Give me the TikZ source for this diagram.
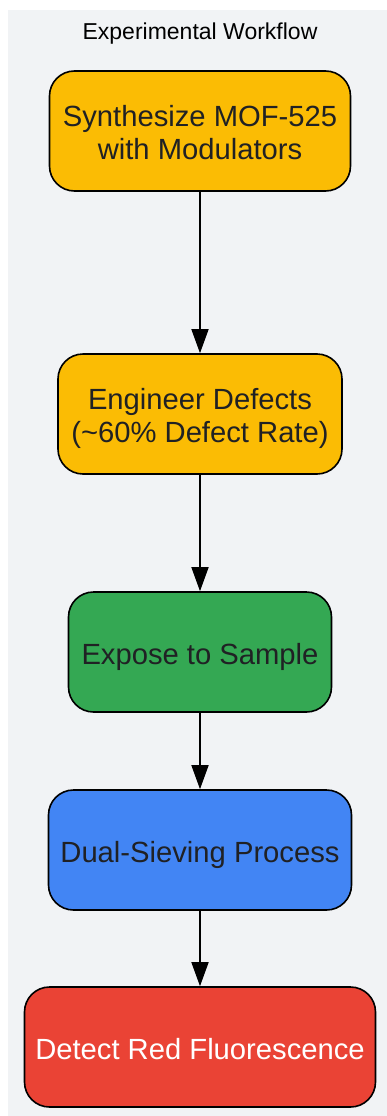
\documentclass[tikz,border=0pt]{standalone}
\usepackage{fontspec}
\setmainfont{Liberation Sans}
\usetikzlibrary{arrows.meta}
\definecolor{bgc}{HTML}{F1F3F5}
\definecolor{yel}{HTML}{FBBC04}
\definecolor{grn}{HTML}{34A853}
\definecolor{blu}{HTML}{4285F4}
\definecolor{red1}{HTML}{EA4335}
\definecolor{txt}{HTML}{202124}
\newcommand\boxtext[1]{\smash{\raisebox{-12pt}{\begin{tabular}{@{}c@{}}#1\end{tabular}}}}
\tikzset{
 x=1pt,y=-1pt,
 box/.style={draw=black,line width=1.6pt,rounded corners=25pt,text=txt,font=\fontsize{29.2}{33}\selectfont,inner sep=0pt,anchor=center,minimum height=120pt},
 arr/.style={draw=black,line width=1.6pt,shorten >=0pt,-{Triangle[length=24pt,width=17pt]}}
}
\begin{document}
\begin{tikzpicture}
\useasboundingbox (0,0) rectangle (387,1116);
\fill[white] (0,0) rectangle (387,1116);
\fill[bgc] (8,10) rectangle (387,1116);
\node[font=\fontsize{23}{26}\selectfont,text=black] (title) at (200,34) {Experimental Workflow};
\node[box,fill=yel,minimum width=301pt] (a) at (200,131) {\boxtext{Synthesize MOF-525\\with Modulators}};
\node[box,fill=yel,minimum width=284pt] (b) at (200,414) {\boxtext{Engineer Defects\\(\textasciitilde60\% Defect Rate)}};
\node[box,fill=grn,minimum width=263pt] (c) at (200,652) {\boxtext{Expose to Sample}};
\node[box,fill=blu,minimum width=303pt] (d) at (200,850) {\boxtext{Dual-Sieving Process}};
\node[box,fill=red1,minimum width=351pt] (e) at (200,1047) {\boxtext{\color{white}Detect Red Fluorescence}};
\draw[arr] (a) -- (b);
\draw[arr] (b) -- (c);
\draw[arr] (c) -- (d);
\draw[arr] (d) -- (e);
\end{tikzpicture}
\end{document}
